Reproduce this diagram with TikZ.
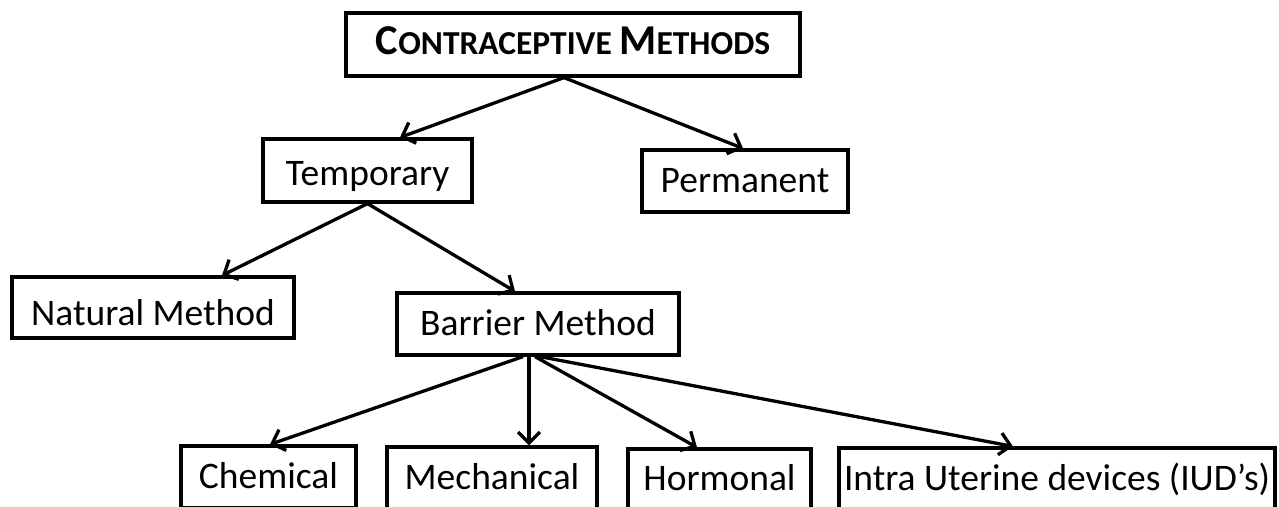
\documentclass[tikz,border=0pt]{standalone}
\usepackage{fontspec}
\setmainfont{Carlito}
\usetikzlibrary{arrows.meta}
\begin{document}
\begin{tikzpicture}[x=1pt,y=-1pt,
  box/.style={draw, line width=3.2pt, inner sep=0pt, font=\fontsize{37.5}{44}\selectfont, text height=24pt, text depth=0pt},
  conn/.style={line width=3.3pt, -{Straight Barb[length=11pt,width=22pt]}}]
\useasboundingbox (0,0) rectangle (1279,506);
\clip (0,0) rectangle (1279,506);
\fill[white] (0,0) rectangle (1279,506);

\node[box, minimum width=454pt, minimum height=63pt, text height=20pt] (title) at (573,44.5)
  {\bfseries\fontsize{42.5}{50}\selectfont C\fontsize{33.5}{40}\selectfont ONTRACEPTIVE \fontsize{42.5}{50}\selectfont M\fontsize{33.5}{40}\selectfont ETHODS};
\node[box, minimum width=209pt, minimum height=63pt, text height=29pt] (temp) at (367.5,170.5) {Temporary};
\node[box, minimum width=206pt, minimum height=62pt, text height=22pt] (perm) at (745,181) {Permanent};
\node[box, minimum width=282pt, minimum height=61pt, text height=35pt] (nat) at (153,307.5) {Natural Method};
\node[box, minimum width=282pt, minimum height=62pt, text height=22pt] (bar) at (538,324) {Barrier Method};
\node[box, minimum width=175pt, minimum height=62pt, text height=22pt] (chem) at (268.5,477) {Chemical};
\node[box, minimum width=210pt, minimum height=62pt, text height=22pt] (mech) at (492,478) {Mechanical};
\node[box, minimum width=183pt, minimum height=62pt, text height=20pt] (horm) at (719.5,480) {Hormonal};
\node[box, minimum width=436pt, minimum height=62pt, text height=22pt] (iud) at (1057,479) {Intra Uterine devices (IUD’s)};

\draw[conn] ([xshift=-9pt]title.south) -- ([xshift=32.5pt]temp.north);
\draw[conn] ([xshift=-9pt]title.south) -- ([xshift=-2pt]perm.north);
\draw[conn] (temp.south) -- ([xshift=69pt]nat.north);
\draw[conn] (temp.south) -- ([xshift=-23pt]bar.north);
\draw[conn] ([xshift=-15pt]bar.south) -- ([xshift=1.5pt]chem.north);
\draw[conn] ([xshift=-9pt]bar.south) -- ([xshift=37pt]mech.north);
\draw[conn] ([xshift=-3pt]bar.south) -- ([xshift=-22.5pt]horm.north);
\draw[conn] ([xshift=2pt]bar.south) -- ([xshift=-44pt]iud.north);
\end{tikzpicture}
\end{document}
